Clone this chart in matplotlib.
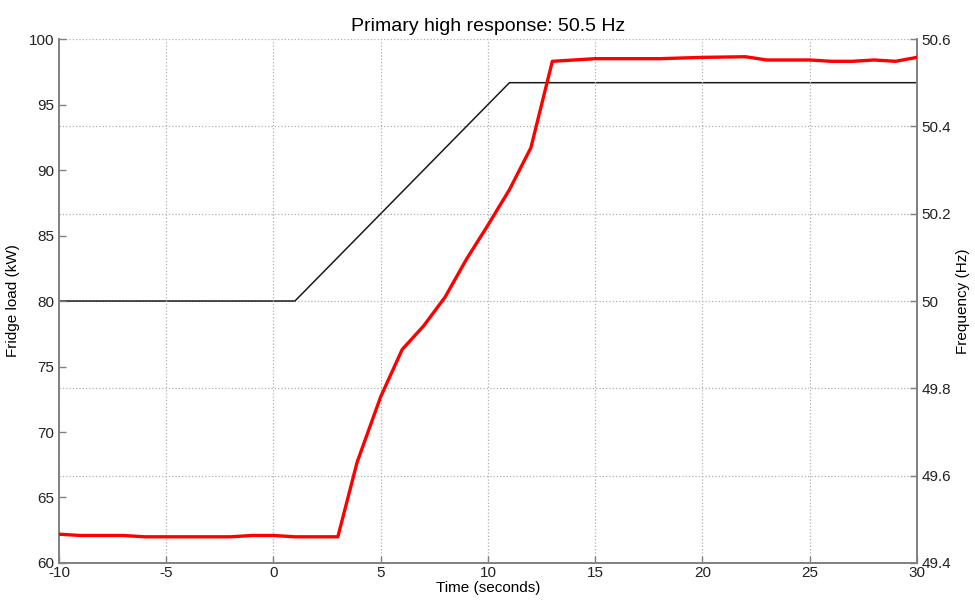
import numpy as np
import matplotlib.pyplot as plt

plt.rcParams['font.family'] = ['Liberation Sans', 'DejaVu Sans']
plt.rcParams['axes.unicode_minus'] = False

# === DATOS ===
# carga de frigoríficos (kW)
t_load = [-10, -9, -8, -7, -6, -5, -4, -3, -2, -1, 0, 1, 2, 3,
          3.9, 5, 6, 7, 8, 9, 10, 11, 12, 13,
          15, 18, 20, 22, 23, 25, 26, 27, 28, 29, 30]
load_kw = [62.2, 62.1, 62.1, 62.1, 62.0, 62.0, 62.0, 62.0, 62.0, 62.1, 62.1, 62.0, 62.0, 62.0,
           67.7, 72.7, 76.3, 78.1, 80.3, 83.2, 85.8, 88.5, 91.7, 98.3,
           98.5, 98.5, 98.6, 98.65, 98.4, 98.4, 98.3, 98.3, 98.4, 98.3, 98.6]

# frecuencia (Hz)
t_freq = [-10, 1, 11, 30]
freq_hz = [50.0, 50.0, 50.5, 50.5]

spine_col = '#808080'

fig = plt.figure(figsize=(9.75, 6.07), dpi=100)
ax = fig.add_axes([0.0605, 0.0725, 0.88, 0.8632])
ax2 = ax.twinx()

ax.plot(t_load, load_kw, color='#ff0000', lw=2.4, zorder=3)
ax2.plot(t_freq, freq_hz, color='#1a1a1a', lw=1.1)
ax.set_zorder(ax2.get_zorder() + 1)
ax.patch.set_visible(False)

ax.set_xlim(-10, 30)
ax.set_ylim(60, 100)
ax.set_xticks(np.arange(-10, 31, 5))
ax.set_yticks(np.arange(60, 101, 5))
ax2.set_ylim(49.4, 50.6)
ax2.set_yticks(np.arange(49.4, 50.61, 0.2))
ax2.set_yticklabels(['49.4', '49.6', '49.8', '50', '50.2', '50.4', '50.6'])

ax.grid(True, axis='x', ls=':', color='#b0b0b0', lw=0.9)
ax2.grid(True, axis='y', ls=':', color='#b0b0b0', lw=0.9)

for a in (ax, ax2):
    a.spines['top'].set_visible(False)
    for s in ('left', 'right', 'bottom'):
        a.spines[s].set_color(spine_col)
        a.spines[s].set_linewidth(1.2)
    a.tick_params(direction='in', length=5, width=1, colors=spine_col,
                  labelcolor='#222222', labelsize=11)

ax.tick_params(axis='x', pad=2)
ax2.tick_params(axis='y', pad=3)
ax.set_xlabel('Time (seconds)', fontsize=11, labelpad=1)
ax.set_ylabel('Fridge load (kW)', fontsize=11, labelpad=6)
ax2.set_ylabel('Frequency (Hz)', fontsize=11, labelpad=4)
ax.set_title('Primary high response: 50.5 Hz', fontsize=14, pad=6)

fig.savefig('out.png', dpi=100)
